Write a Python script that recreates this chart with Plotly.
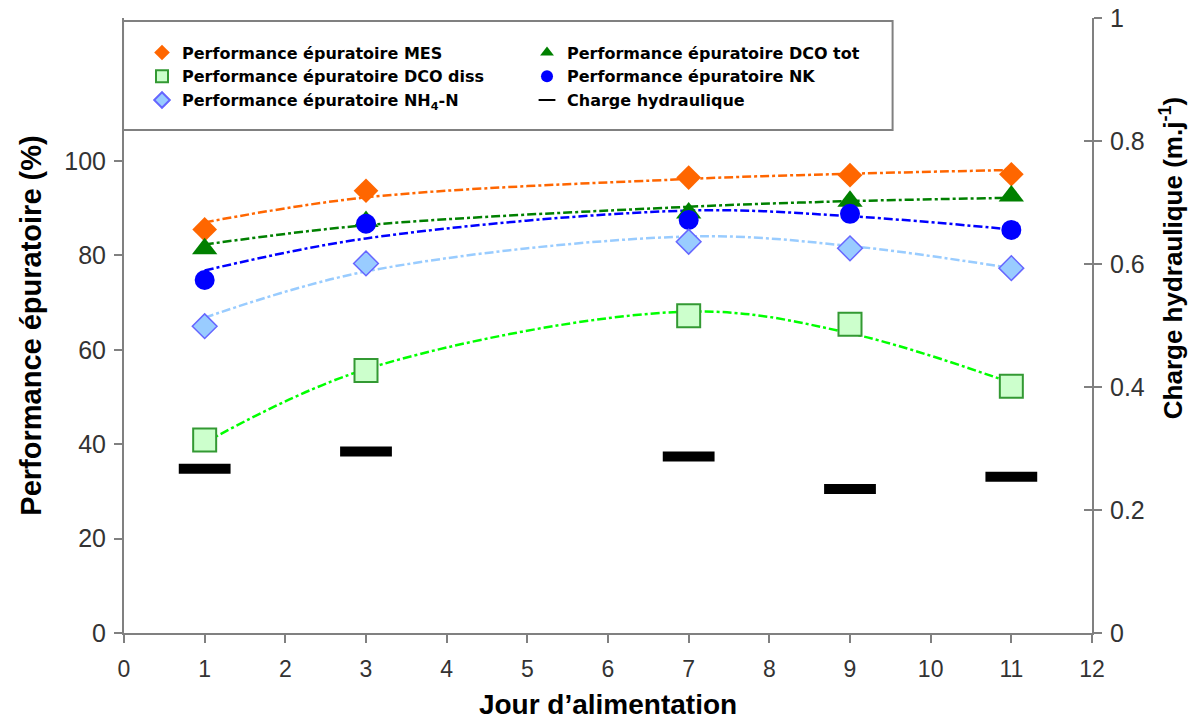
import plotly.graph_objects as go

days = [1, 3, 7, 9, 11]
mes = [85.5, 93.7, 96.5, 97.0, 97.2]
dco_tot = [81.4, 87.2, 89.0, 91.5, 92.6]
dco_diss = [40.9, 55.6, 67.2, 65.4, 52.3]
nk = [74.8, 86.7, 87.5, 88.8, 85.4]
nh4 = [65.0, 78.3, 82.9, 81.5, 77.3]
charge = [0.267, 0.295, 0.287, 0.234, 0.254]

# trend curves (values at each day)
trend_mes = [87.0, 92.3, 96.2, 97.3, 98.1]
trend_dco_tot = [82.3, 86.4, 90.3, 91.5, 92.2]
trend_dco_diss = [40.3, 55.9, 68.1, 63.5, 53.0]
trend_nk = [76.8, 83.6, 89.5, 88.3, 85.5]
trend_nh4 = [66.8, 76.6, 84.0, 82.0, 77.3]

x_ticks = list(range(0, 13))
y_ticks = [0, 20, 40, 60, 80, 100]
y2_ticks = [0, 0.2, 0.4, 0.6, 0.8, 1]

fig = go.Figure()

def trend(y, color):
    fig.add_trace(go.Scatter(x=days, y=y, mode="lines", line_shape="spline",
                             line=dict(color=color, width=2.5, dash="dashdot", smoothing=1.0),
                             showlegend=False, hoverinfo="skip"))

trend(trend_dco_diss, "#00FF00")
trend(trend_nh4, "#99CCFF")
trend(trend_nk, "#0000FF")
trend(trend_dco_tot, "#008000")
trend(trend_mes, "#FF6600")

fig.add_trace(go.Scatter(x=days, y=charge, mode="markers", name="Charge hydraulique", yaxis="y2",
                         showlegend=False,
                         marker=dict(symbol="line-ew", size=37, color="black",
                                     line=dict(color="black", width=10))))

fig.add_trace(go.Scatter(x=days, y=mes, mode="markers", name="Performance épuratoire MES",
                         marker=dict(symbol="diamond", size=19, color="#FF6600")))
fig.add_trace(go.Scatter(x=days, y=dco_tot, mode="markers", name="Performance épuratoire DCO tot",
                         marker=dict(symbol="triangle-up", size=22, color="#008000")))
fig.add_trace(go.Scatter(x=days, y=dco_diss, mode="markers", name="Performance épuratoire DCO diss",
                         marker=dict(symbol="square", size=23, color="#CCFFCC",
                                     line=dict(color="#339933", width=2))))
fig.add_trace(go.Scatter(x=days, y=nk, mode="markers", name="Performance épuratoire NK",
                         marker=dict(symbol="circle", size=20, color="#0000FF")))
fig.add_trace(go.Scatter(x=days, y=nh4, mode="markers", name="Performance épuratoire NH<sub>4</sub>-N",
                         marker=dict(symbol="diamond", size=19, color="#99CCFF",
                                     line=dict(color="#6666FF", width=1.5))))
# legend-only entry for the hydraulic load (thin dash like the original legend)
fig.add_trace(go.Scatter(x=[None], y=[None], mode="markers", name="Charge hydraulique", yaxis="y2",
                         marker=dict(symbol="line-ew", size=12, color="black",
                                     line=dict(color="black", width=2.5))))

tick_font = dict(family="Liberation Sans, Arial", size=25, color="#333333")
axis_common = dict(showline=True, linecolor="#808080", linewidth=2, ticks="outside",
                   tickcolor="#808080", ticklen=8, tickwidth=1.5, showgrid=False, zeroline=False,
                   automargin=False)

fig.update_layout(
    width=1198, height=720,
    margin=dict(l=124, r=106, t=18, b=87),
    plot_bgcolor="white", paper_bgcolor="white",
    xaxis=dict(range=[0, 12], tickvals=x_ticks, ticklabelstandoff=6,
               tickfont=dict(family="Liberation Sans Narrow, Arial Narrow, Liberation Sans", size=23, color="#333333"),
               title=dict(text="<b>Jour d’alimentation</b>", standoff=14,
                          font=dict(family="Liberation Sans, Arial", size=28, color="black")),
               **axis_common),
    yaxis=dict(range=[0, 130.3], tickvals=y_ticks, tickfont=tick_font, ticklabelstandoff=3,
               title=dict(text="<b>Performance épuratoire (%)</b>", standoff=14,
                          font=dict(family="Liberation Sans, Arial", size=29, color="black")),
               **axis_common),
    yaxis2=dict(range=[0, 1], tickvals=y2_ticks, overlaying="y", side="right", tickfont=tick_font,
                ticklabelstandoff=3, **axis_common),
    # inner half of the crossing ticks on the right axis
    yaxis3=dict(range=[0, 1], tickvals=y2_ticks, overlaying="y", side="right", showticklabels=False,
                ticks="inside", ticklen=8, tickwidth=1.5, tickcolor="#808080", showline=False,
                showgrid=False, zeroline=False, automargin=False),
    legend=dict(orientation="h", x=0.0186, y=0.9715, xanchor="left", yanchor="top",
                entrywidth=340, entrywidthmode="pixels",
                borderwidth=0, bgcolor="rgba(0,0,0,0)",
                font=dict(family="DejaVu Sans, Verdana", size=16, color="black", weight="bold"),
                itemsizing="constant"),
    shapes=[dict(type="rect", xref="paper", yref="paper", x0=-0.001, x1=0.794, y0=0.818, y1=0.995,
                 line=dict(color="#808080", width=2), fillcolor="rgba(0,0,0,0)", layer="below")],
    annotations=[dict(text="<b>Charge hydraulique (m.j<sup>-1</sup>)</b>", xref="paper", yref="paper",
                      x=1.083, y=0.61, xanchor="center", yanchor="middle", textangle=-90,
                      showarrow=False, font=dict(family="Liberation Sans, Arial", size=26, color="black"))],
)
# dummy invisible trace so the inner-tick axis is drawn
fig.add_trace(go.Scatter(x=[None], y=[None], yaxis="y3", showlegend=False, hoverinfo="skip"))

fig.write_html("out.html")
